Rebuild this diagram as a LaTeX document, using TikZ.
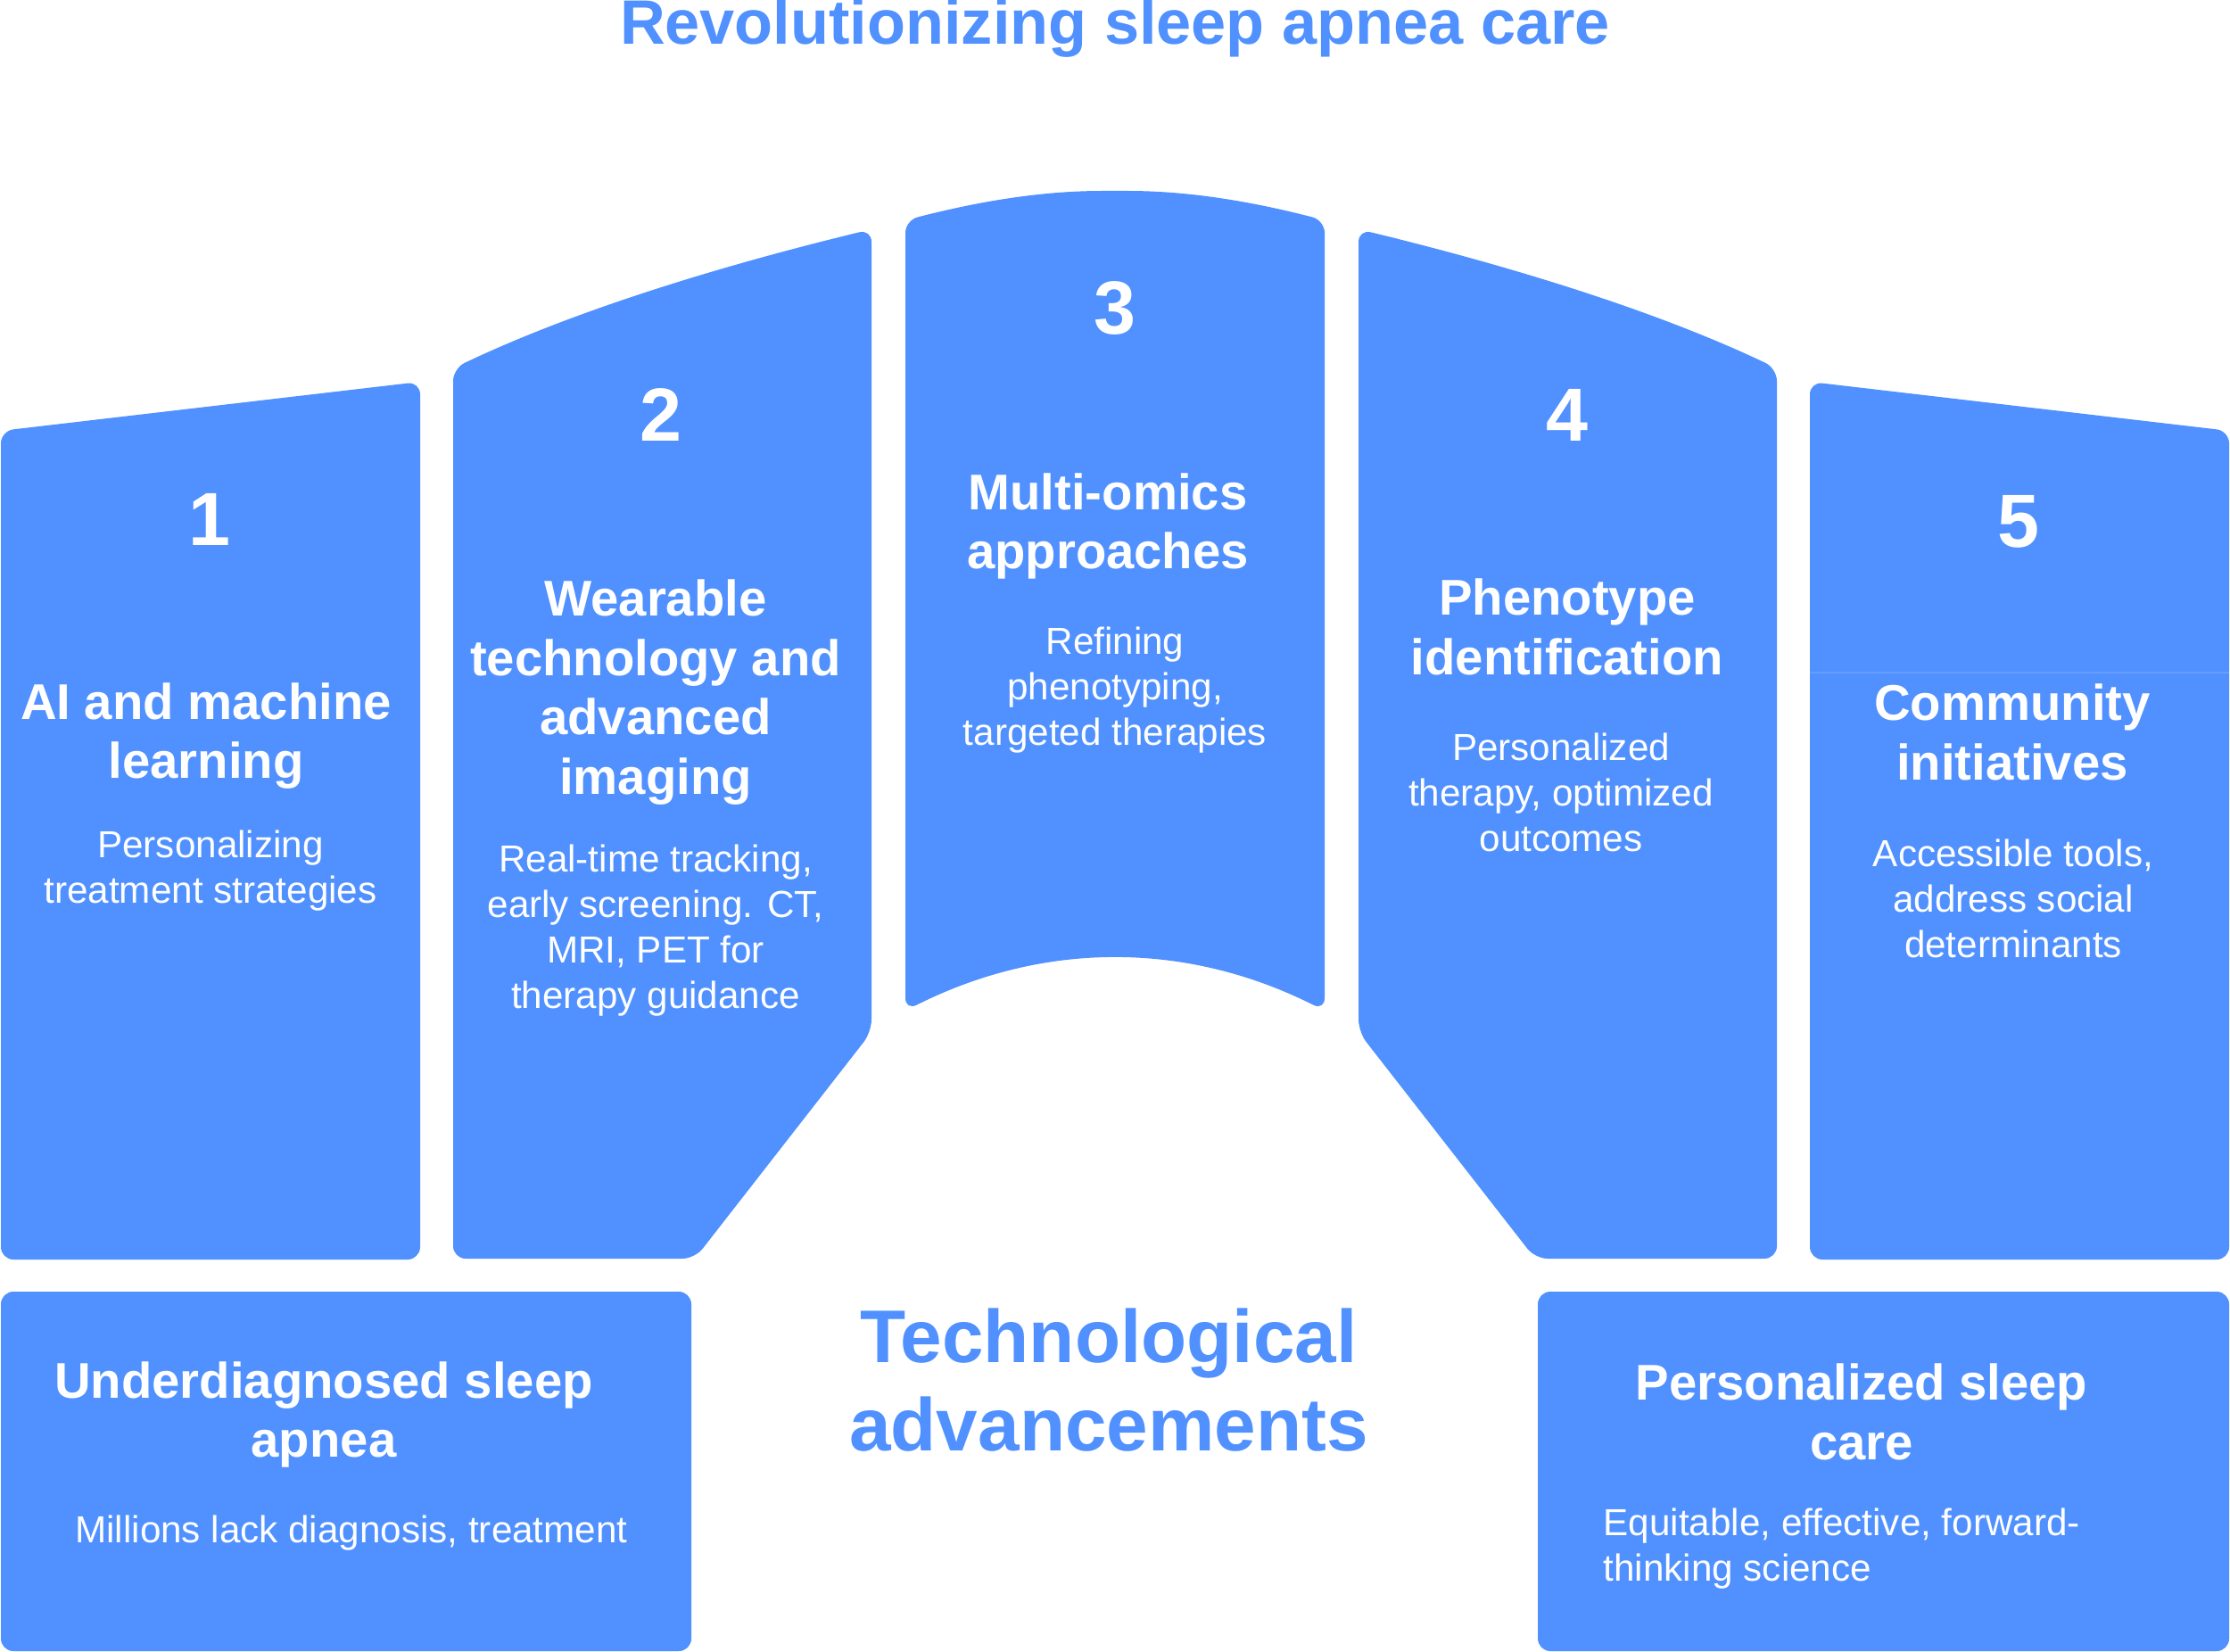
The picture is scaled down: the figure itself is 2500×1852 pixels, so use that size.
\documentclass[tikz,border=0pt]{standalone}
\usepackage{fontspec}
\setmainfont{Liberation Sans}
\usepackage{xcolor}
\definecolor{apneablue}{RGB}{80,145,255}
\usepackage{tikz}

\begin{document}
\begin{tikzpicture}[
    x=0.01cm, y=-0.01cm,
    panel/.style={fill=apneablue, draw=none, rounded corners=4pt},
    numlabel/.style={font=\bfseries\fontsize{24}{28}\selectfont, text=white, inner sep=0pt},
    headlabel/.style={font=\bfseries\fontsize{16}{19}\selectfont, text=white, align=center, inner sep=0pt},
    bodylabel/.style={font=\fontsize{12}{14.5}\selectfont, text=white, align=center, inner sep=0pt},
    toptitle/.style={font=\bfseries\fontsize{20}{24}\selectfont, text=apneablue, inner sep=0pt},
    midtitle/.style={font=\bfseries\fontsize{23.8}{28.2}\selectfont, text=apneablue, align=center, inner sep=0pt},
  ]
    \useasboundingbox (0,0) rectangle (2500,1852);

    % --- Title (cut by the top edge) ---
    \node[toptitle, anchor=base] (title) at (1250,50) {Revolutionizing sleep apnea care};

    % --- Upper panels ---
    \fill[panel] (1,483) -- (471,428) -- (471,1412) -- (1,1412) -- cycle;
    \fill[panel] (508,413) .. controls (640,350) and (800,300) .. (977,257)
      -- (977,1157) -- (779,1411) -- (508,1411) -- cycle;
    \fill[panel] (1015,247) .. controls (1100,225) and (1170,214) .. (1250,214)
      .. controls (1330,214) and (1400,225) .. (1485,247)
      -- (1485,1133) .. controls (1330,1055) and (1170,1055) .. (1015,1133)
      -- cycle;
    \fill[panel] (1992,413) .. controls (1860,350) and (1700,300) .. (1523,257)
      -- (1523,1157) -- (1721,1411) -- (1992,1411) -- cycle;
    \fill[panel] (2029,428) -- (2499,483) -- (2499,1412) -- (2029,1412) -- cycle;
    \draw[white, opacity=0.12, line width=0.3pt] (2029,754) -- (2499,754);

    % --- Lower panels ---
    \fill[panel] (1,1448) rectangle (775,1851);
    \fill[panel] (1724,1448) rectangle (2499,1851);

    % --- Numbers ---
    \foreach \n/\x/\y in {1/235/582, 2/741/465, 3/1250/346, 4/1757/465, 5/2263/585} {
      \node[numlabel] (num\n) at (\x,\y) {\n};
    }

    % --- Panel texts ---
    \node[headlabel] (aihead)   at (231,825)  {AI and machine\\learning};
    \node[bodylabel] (aibody)   at (236,976)  {Personalizing\\treatment strategies};
    \node[headlabel] (wearhead) at (735,776)  {Wearable\\technology and\\advanced\\imaging};
    \node[bodylabel] (wearbody) at (735,1043) {Real-time tracking,\\early screening. CT,\\MRI, PET for\\therapy guidance};
    \node[headlabel] (omichead) at (1242,590) {Multi-omics\\approaches};
    \node[bodylabel] (omicbody) at (1250,774) {Refining\\phenotyping,\\targeted therapies};
    \node[headlabel] (phenhead) at (1757,703) {Phenotype\\identification};
    \node[bodylabel] (phenbody) at (1750,888) {Personalized\\therapy, optimized\\outcomes};
    \node[headlabel] (commhead) at (2256,821) {Community\\initiatives};
    \node[bodylabel] (commbody) at (2257,1007) {Accessible tools,\\address social\\determinants};

    % --- Lower texts ---
    \node[headlabel] (underhead) at (363,1586) {Underdiagnosed sleep\\apnea};
    \node[bodylabel] (underbody) at (394,1719) {Millions lack diagnosis, treatment};
    \node[midtitle]  (techtitle) at (1243,1547) {Technological\\advancements};
    \node[headlabel] (carehead)  at (2087,1583) {Personalized sleep\\care};
    \node[bodylabel, align=left, anchor=west] (carebody) at (1797,1736)
      {Equitable, effective, forward-\\thinking science};
  \end{tikzpicture}
\end{document}
